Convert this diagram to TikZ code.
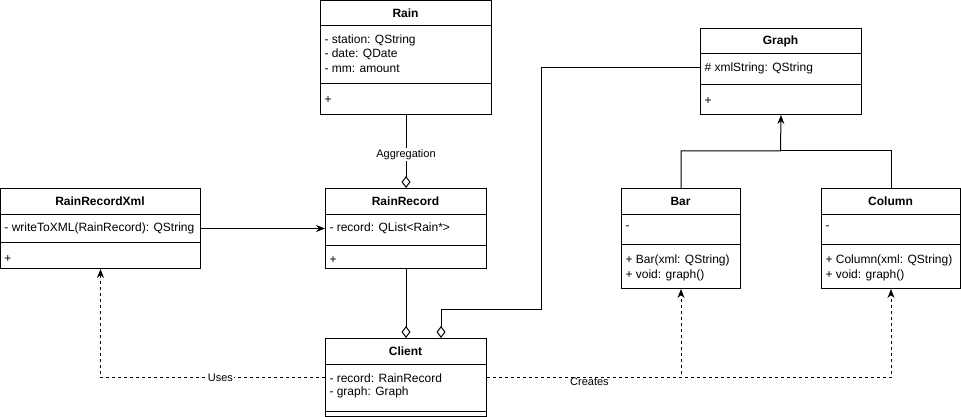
\documentclass[tikz,border=0pt]{standalone}
\usepackage{fontspec}
\setmainfont{Liberation Sans}
\usetikzlibrary{arrows.meta}

\begin{document}
\begin{tikzpicture}[x=1pt,y=-1pt,line width=1pt,
    classbox/.style={draw,rectangle,anchor=north west,inner sep=0pt},
    classname/.style={font=\fontsize{12}{14}\selectfont\bfseries},
    member/.style={anchor=west,inner xsep=4pt,inner ysep=0pt,font=\fontsize{12}{14}\selectfont},
    edgelabel/.style={inner sep=1pt,font=\fontsize{11}{13}\selectfont},
    dep/.style={dash pattern=on 3pt off 3pt,-{Stealth[length=9pt,width=7pt]}},
    assoc/.style={-{Stealth[length=9pt,width=7pt]}},
    aggr/.style={-{Diamond[open,length=12pt,width=9pt]}}]
    \useasboundingbox (0,0) rectangle (961,417);
    % class boxes
    \node (rain) [classbox,minimum width=171,minimum height=114] at (320,0) {};
    \node (xml) [classbox,minimum width=200,minimum height=80] at (0,188) {};
    \node (record) [classbox,minimum width=161,minimum height=80] at (325,188) {};
    \node (graph) [classbox,minimum width=161,minimum height=86] at (700,28) {};
    \node (bar) [classbox,minimum width=119,minimum height=100] at (621,188) {};
    \node (column) [classbox,minimum width=139,minimum height=100] at (821,188) {};
    \node (client) [classbox,minimum width=161,minimum height=78] at (325,338) {};
    % compartments
    \draw (320,26)--(491,26);
    \draw (320,84)--(491,84);
    \draw (0,214)--(200,214);
    \draw (0,242)--(200,242);
    \draw (325,214)--(486,214);
    \draw (325,245)--(486,245);
    \draw (700,54)--(861,54);
    \draw (700,85)--(861,85);
    \draw (621,214)--(740,214);
    \draw (621,244)--(740,244);
    \draw (821,214)--(960,214);
    \draw (821,244)--(960,244);
    \draw (325,364)--(486,364);
    \draw (325,411)--(486,411);
    % texts
    \node (rainname) [classname] at (405.5,13) {Rain};
    \node (rainst) [member] at (320,40) {- station: QString};
    \node (raindate) [member] at (320,54) {- date: QDate};
    \node (rainmm) [member] at (320,69) {- mm: amount};
    \node (rainops) [member] at (320,100) {+};
    \node (xmlname) [classname] at (100,201) {RainRecordXml};
    \node (xmlop) [member] at (0,228) {- writeToXML(RainRecord): QString};
    \node (xmlops) [member] at (0,259) {+};
    \node (recordname) [classname] at (405.5,201) {RainRecord};
    \node (recordlist) [member] at (325,228) {- record: QList<Rain*>};
    \node (recordops) [member] at (325,260) {+};
    \node (graphname) [classname] at (780.5,41) {Graph};
    \node (graphxml) [member] at (700,68) {\# xmlString: QString};
    \node (graphops) [member] at (700,101) {+};
    \node (barname) [classname] at (680.5,201) {Bar};
    \node (barattr) [member] at (621,228) {-};
    \node (barctor) [member] at (621,260) {+ Bar(xml: QString)};
    \node (bargraph) [member] at (621,275) {+ void: graph()};
    \node (columnname) [classname] at (890.5,201) {Column};
    \node (columnattr) [member] at (821,228) {-};
    \node (columnctor) [member] at (821,260) {+ Column(xml: QString)};
    \node (columngraph) [member] at (821,275) {+ void: graph()};
    \node (clientname) [classname] at (405.5,351) {Client};
    \node (clientrec) [member] at (325,378) {- record: RainRecord};
    \node (clientgraph) [member] at (325,392) {- graph: Graph};
    % connectors
    \draw [aggr] (rain.south) -- node [edgelabel,fill=white,pos=0.54] {Aggregation} (record.north);
    \draw [assoc] (xml.east) -- (record.west);
    \draw [aggr] (record.south) -- (client.north);
    \coordinate (bend) at (541,309);
    \draw [aggr] (graphxml.west) -| (bend) -| ([xshift=35pt]client.north);
    \coordinate (split) at (780.5,151);
    \draw [assoc] (bar.north) |- (split) -- (graph.south);
    \draw (column.north) |- (split);
    \draw [dep] (client.west) -| node [edgelabel,fill=white,pos=0.233] {Uses} (xml.south);
    \draw [dep] (client.east) -| node [edgelabel,pos=0.264,yshift=-4pt] {Creates} (bar.south);
    \draw [dep] (client.east) -| (column.south);
\end{tikzpicture}
\end{document}
